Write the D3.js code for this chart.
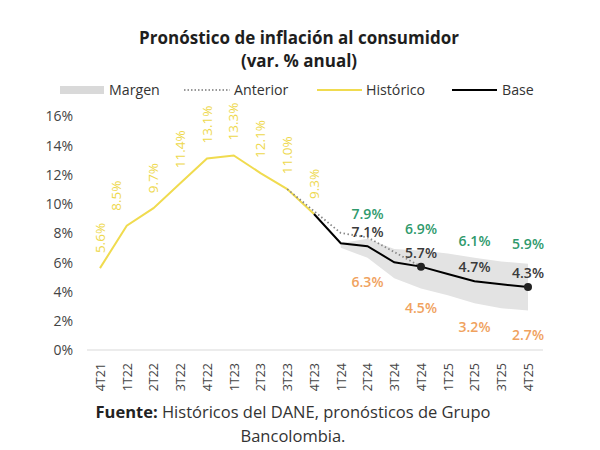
<!DOCTYPE html>
<html><head><meta charset="utf-8">
<script src="https://cdn.jsdelivr.net/npm/d3@7/dist/d3.min.js"></script>
<style>body{margin:0;background:#fff}svg{display:block}text{font-family:"Open Sans",sans-serif}</style>
</head><body><svg id="c" width="600" height="450"></svg>
<script>
const categories = ["4T21","1T22","2T22","3T22","4T22","1T23","2T23","3T23","4T23","1T24","2T24","3T24","4T24","1T25","2T25","3T25","4T25"];
const historico = [5.6, 8.5, 9.7, 11.4, 13.1, 13.3, 12.1, 11.0, 9.3];
const baseCats = ["4T23","1T24","2T24","3T24","4T24","1T25","2T25","3T25","4T25"];
const base = [9.3, 7.3, 7.1, 6.0, 5.7, 5.2, 4.7, 4.5, 4.3];
const anteriorCats = ["3T23","4T23","1T24","2T24","3T24","4T24"];
const anterior = [11.0, 9.5, 8.0, 7.7, 6.7, 5.7];
const margenCats = ["1T24","2T24","3T24","4T24","1T25","2T25","3T25","4T25"];
const margenAlto = [7.3, 7.6, 6.9, 6.8, 6.6, 6.3, 6.05, 5.9];
const margenBajo = [7.0, 6.3, 4.9, 4.2, 3.75, 3.2, 2.85, 2.7];
const labelCats = ["2T24","4T24","2T25","4T25"];
const labelBase = [7.1, 5.7, 4.7, 4.3];
const labelAlto = [7.9, 6.9, 6.1, 5.9];
const labelBajo = [6.3, 4.5, 3.2, 2.7];
const dotCats = ["4T24","4T25"];
const yTicks = [0, 2, 4, 6, 8, 10, 12, 14, 16];

const svg = d3.select("#c");
const x = d3.scalePoint().domain(categories).range([100, 528]);
const y = d3.scaleLinear().domain([0, 16]).range([350, 116]);
const val = (cats, vals) => c => vals[cats.indexOf(c)];

// title
svg.append("text").attr("x", 299).attr("y", 44).attr("text-anchor", "middle")
  .attr("font-size", 17).attr("font-weight", 700).attr("fill", "#1e1e1e").text("Pronóstico de inflación al consumidor");
svg.append("text").attr("x", 299).attr("y", 67).attr("text-anchor", "middle")
  .attr("font-size", 17).attr("font-weight", 700).attr("fill", "#1e1e1e").text("(var. % anual)");

// legend
const lg = svg.append("g").attr("font-size", 14.2).attr("fill", "#333");
lg.append("rect").attr("x", 60).attr("y", 86).attr("width", 44).attr("height", 8).attr("fill", "#d9d9d9");
lg.append("text").attr("x", 109).attr("y", 95).text("Margen");
lg.append("line").attr("x1", 184).attr("x2", 230).attr("y1", 90).attr("y2", 90).attr("stroke", "#777").attr("stroke-width", 1.5).attr("stroke-dasharray", "1.5,2");
lg.append("text").attr("x", 234).attr("y", 95).text("Anterior");
lg.append("line").attr("x1", 317).attr("x2", 362).attr("y1", 90).attr("y2", 90).attr("stroke", "#f0db4f").attr("stroke-width", 2);
lg.append("text").attr("x", 366).attr("y", 95).text("Histórico");
lg.append("line").attr("x1", 452).attr("x2", 497).attr("y1", 90).attr("y2", 90).attr("stroke", "#000").attr("stroke-width", 2);
lg.append("text").attr("x", 502).attr("y", 95).text("Base");

// y axis
const ya = svg.append("g").attr("transform", "translate(73,0)")
  .call(d3.axisLeft(y).tickValues(yTicks).tickFormat(d => d + "%").tickSize(0));
ya.select(".domain").remove();
ya.selectAll("text").attr("font-size", 14).attr("fill", "#444").attr("dy", "0.35em").attr("x", 0)
  .style("font-family", "'Open Sans',sans-serif");

// x axis
const xa = svg.append("g").attr("transform", "translate(0,350)")
  .call(d3.axisBottom(x).tickSize(0));
xa.select(".domain").attr("stroke", "#d9d9d9").attr("d", "M87,0H543");
xa.selectAll("text").attr("font-size", 12.5).attr("fill", "#444")
  .style("font-family", "'Open Sans',sans-serif")
  .attr("text-anchor", "end").attr("transform", "rotate(-90)")
  .attr("x", -13).attr("y", 0).attr("dy", "0.35em");

// band
const area = d3.area().x(d => x(d))
  .y0(d => y(val(margenCats, margenBajo)(d)))
  .y1(d => y(val(margenCats, margenAlto)(d)));
svg.append("path").datum(margenCats).attr("d", area).attr("fill", "#e3e3e3");

const line = (cats, vals) => d3.line().x(d => x(d)).y(d => y(vals[cats.indexOf(d)]))(cats);

// historico
svg.append("path").attr("d", line(categories.slice(0, historico.length), historico))
  .attr("fill", "none").attr("stroke", "#f0db4f").attr("stroke-width", 2);
// anterior
svg.append("path").attr("d", line(anteriorCats, anterior))
  .attr("fill", "none").attr("stroke", "#888").attr("stroke-width", 1.8).attr("stroke-dasharray", "1.5,2.5");
// base
svg.append("path").attr("d", line(baseCats, base))
  .attr("fill", "none").attr("stroke", "#000").attr("stroke-width", 2);
svg.selectAll("circle.dot").data(dotCats).join("circle").attr("class", "dot")
  .attr("cx", d => x(d)).attr("cy", d => y(base[baseCats.indexOf(d)])).attr("r", 4).attr("fill", "#222");

// historic labels
svg.selectAll("text.hl").data(historico).join("text").attr("class", "hl")
  .attr("transform", (d, i) => `translate(${x(categories[i]) + (i === 1 ? -10 : 0)},${y(d) - 15}) rotate(-90)`)
  .attr("dy", "0.35em").attr("font-size", 13.5).attr("fill", "#eed84c").text(d => d.toFixed(1) + "%");

// forecast labels
const fl = svg.append("g").attr("font-size", 14).attr("font-weight", 600).attr("text-anchor", "middle");
fl.selectAll("text.b").data(labelBase).join("text").attr("class", "b")
  .attr("x", (d, i) => x(labelCats[i])).attr("y", d => y(d) - 9).attr("fill", "#3a3a3a").text(d => d.toFixed(1) + "%");
fl.selectAll("text.a").data(labelAlto).join("text").attr("class", "a")
  .attr("x", (d, i) => x(labelCats[i])).attr("y", d => y(d) - 15).attr("fill", "#2f9a6c").text(d => d.toFixed(1) + "%");
fl.selectAll("text.l").data(labelBajo).join("text").attr("class", "l")
  .attr("x", (d, i) => x(labelCats[i])).attr("y", d => y(d) + 29).attr("fill", "#f0a25e").text(d => d.toFixed(1) + "%");

// source
const src = svg.append("text").attr("x", 293).attr("y", 418).attr("text-anchor", "middle").attr("font-size", 16.5).attr("fill", "#333");
src.append("tspan").attr("font-weight", 700).attr("fill", "#222").text("Fuente:");
src.append("tspan").text(" Históricos del DANE, pronósticos de Grupo");
svg.append("text").attr("x", 293).attr("y", 442).attr("text-anchor", "middle").attr("font-size", 16.5).attr("fill", "#333").text("Bancolombia.");
</script></body></html>
